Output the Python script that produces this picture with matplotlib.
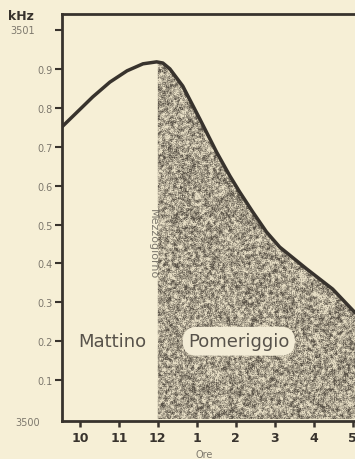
import numpy as np
import matplotlib
matplotlib.use("Agg")
import matplotlib.pyplot as plt
from matplotlib.colors import to_rgb
from matplotlib.transforms import blended_transform_factory

# hour of day (24h) and frequency
hours = [9.54, 10.33, 10.77, 11.21, 11.62, 11.97, 12.13, 12.31, 12.64, 13.08,
         13.51, 13.85, 14.10, 14.44, 14.79, 15.13, 15.82, 16.49, 17.05, 17.5]
khz = [0.751, 0.828, 0.866, 0.895, 0.913, 0.918, 0.915, 0.900, 0.856, 0.771,
       0.686, 0.625, 0.584, 0.532, 0.481, 0.442, 0.386, 0.334, 0.275, 0.235]

x_ticks = [10, 11, 12, 13, 14, 15, 16, 17]
x_labels = ["10", "11", "12", "1", "2", "3", "4", "5"]
y_ticks = [0.1, 0.2, 0.3, 0.4, 0.5, 0.6, 0.7, 0.8, 0.9]
y_labels = ["0.1", "0.2", "0.3", "0.4", "0.5", "0.6", "0.7", "0.8", "0.9"]
noon = 12.0

paper = "#f6efd6"
ink = "#38332d"
grey = "#7d786d"

fig = plt.figure(figsize=(3.55, 4.6), dpi=100, facecolor=paper)
ax = fig.add_axes([62 / 355, 38 / 460, 310 / 355, 407 / 460])
ax.set_facecolor(paper)
xmin, xmax, ymin, ymax = 9.54, 17.5, -0.005, 1.041
ax.set_xlim(xmin, xmax)
ax.set_ylim(ymin, ymax)

h = np.array(hours)
k = np.array(khz)
after = h >= noon
h_fill = np.concatenate([[noon], h[after]])
k_fill = np.concatenate([[np.interp(noon, h, k)], k[after]])


def box_blur(a):
    # 3x3 mean, keeps the grain clumpy rather than pixel-sharp
    p = np.pad(a, 1, mode="edge")
    return sum(p[i:i + a.shape[0], j:j + a.shape[1]]
               for i in range(3) for j in range(3)) / 9.0


# grainy stipple for the afternoon area, clipped to the area under the curve
area = ax.fill_between(h_fill, 0, k_fill, facecolor="none", edgecolor="none")
rows, cols = 407, 310
rng = np.random.default_rng(11)
fine = rng.random((rows, cols))
clumps = box_blur(rng.random((rows, cols)))
grain = 0.45 * fine + 0.55 * (clumps - 0.5) * 3 + 0.25
grain = np.clip((grain - 0.5) * 1.3 + 0.48, 0, 1)[..., None]
light = np.array(to_rgb("#e6ddc4"))
dark = np.array(to_rgb("#5a5348"))
tex = light * (1 - grain) + dark * grain
im = ax.imshow(tex, extent=(xmin, xmax, ymin, ymax), aspect="auto",
               interpolation="bilinear", zorder=1)
im.set_clip_path(area.get_paths()[0], transform=ax.transData)

ax.plot(h, k, color=ink, lw=2.5, solid_capstyle="round", zorder=3)

for side in ["left", "bottom", "top"]:
    ax.spines[side].set_color(ink)
    ax.spines[side].set_linewidth(2.0)
ax.spines["right"].set_visible(False)

ax.set_xticks(x_ticks)
ax.set_xticklabels(x_labels, fontsize=9, fontweight="bold", color=ink)
ax.set_yticks(y_ticks + [1.0])
ax.set_yticklabels(y_labels + [""], fontsize=7, color=grey)
ax.tick_params(axis="y", direction="out", length=5, width=1.5, color=ink, pad=2)
ax.tick_params(axis="x", direction="out", length=4, width=1.8, color=ink, pad=3)

trans = blended_transform_factory(ax.transAxes, ax.transData)
ax.text(-0.087, 1.0, "3501", transform=trans, ha="right", va="center",
        fontsize=7, color=grey)
ax.text(-0.071, -0.008, "3500", transform=trans, ha="right", va="center",
        fontsize=7, color=grey)
ax.text(-0.174, 1.036, "kHz", transform=trans, ha="left", va="center",
        fontsize=9, fontweight="bold", color=ink)

ax.text(13.2, -0.09, "Ore", ha="center", va="center",
        fontsize=7, color=grey, clip_on=False)

ax.text(10.82, 0.2, "Mattino", ha="center", va="center", fontsize=13,
        color="#57524a", zorder=4)
ax.text(14.08, 0.2, "Pomeriggio", ha="center", va="center", fontsize=13,
        color="#57524a", zorder=4,
        bbox=dict(boxstyle="round,pad=0.3,rounding_size=0.8", facecolor="#f3ecd6",
                  edgecolor="none"))
ax.text(11.87, 0.452, "Mezzogiorno", ha="center", va="center", rotation=270,
        fontsize=8, color=grey, zorder=4,
        bbox=dict(boxstyle="square,pad=0.05", facecolor=paper, edgecolor="none"))

fig.savefig("out.png", dpi=100, facecolor=paper)
